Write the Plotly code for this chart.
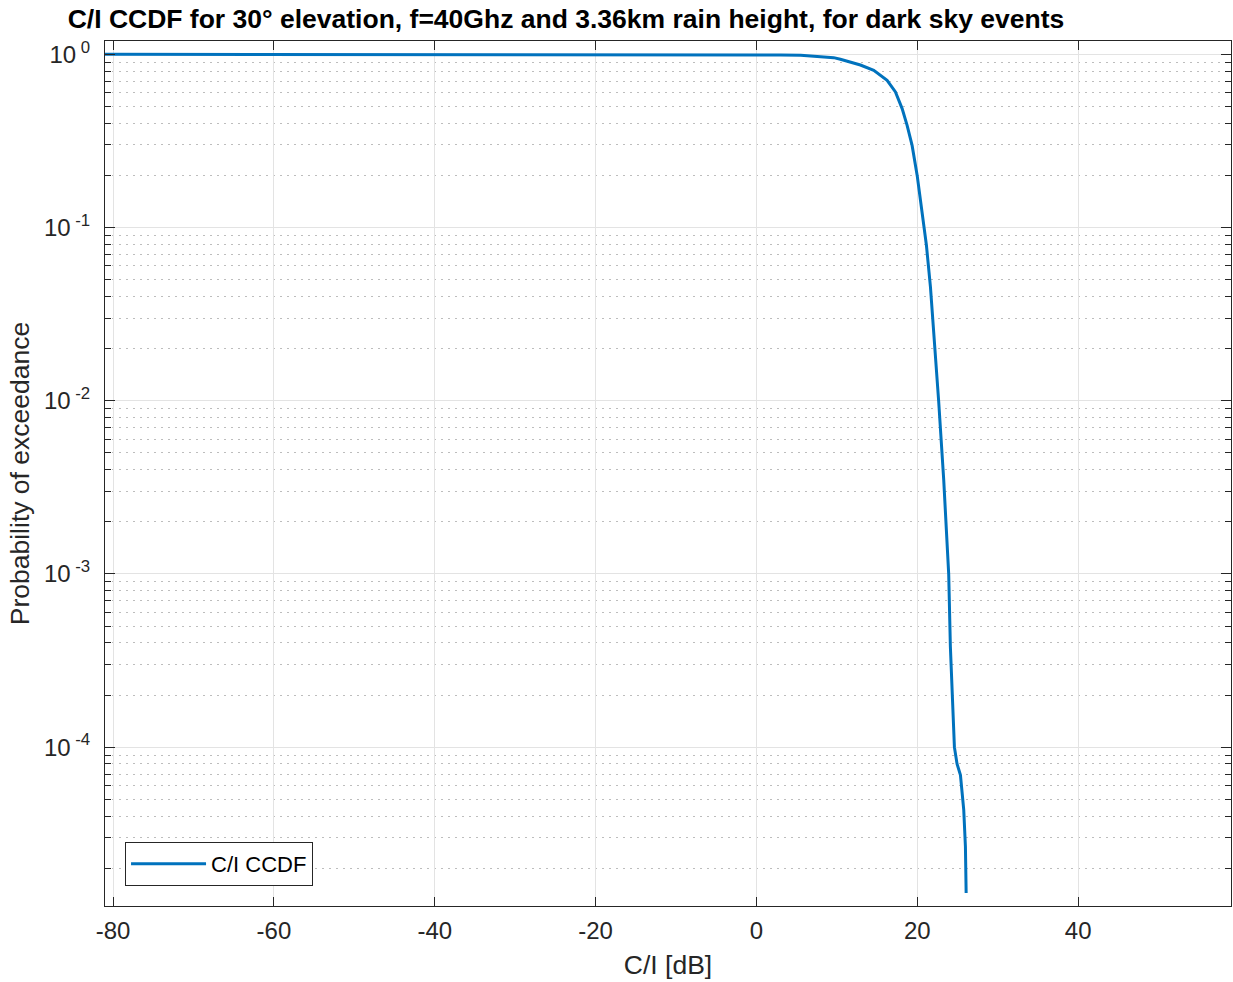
import plotly.graph_objects as go

# C/I complementary CDF (dark sky events, 30 deg elevation, 40 GHz, 3.36 km rain height)
ci_db = [-81, -60, -40, -20, -10, -5, 0, 3, 5.5, 7.5, 9.6, 10.43, 11.68, 12.92,
         14.58, 16.24, 17.28, 18.11, 18.73, 19.35, 19.98, 20.6, 21.13, 21.63,
         22.03, 22.25, 22.65, 23.28, 23.9, 24.11, 24.32, 24.61, 24.94, 25.36,
         25.77, 25.98, 26.07]
p_exceed = [1.0, 1.0, 1.0, 0.9999, 0.9995, 0.998, 0.995, 0.992, 0.987, 0.975,
            0.957, 0.936, 0.905, 0.868, 0.809, 0.708, 0.607, 0.486, 0.389,
            0.298, 0.2, 0.123, 0.079, 0.0454, 0.0255, 0.018, 0.01, 0.0035,
            0.001, 3.8e-4, 1.96e-4, 1.0e-4, 8.0e-5, 6.9e-5, 4.35e-5, 2.67e-5,
            1.44e-5]

x_ticks = [-80, -60, -40, -20, 0, 20, 40]
x_ticktext = [str(v) for v in x_ticks]
y_exponents = [-4, -3, -2, -1, 0]
y_ticks = [10.0 ** e for e in y_exponents]
y_ticktext = ["10<sup> %d</sup>" % e for e in y_exponents]
y_minor = [m * 10.0 ** e for e in range(-5, 0) for m in range(2, 10)]

AX = "#262626"
FONT = "Liberation Sans, Arial, Helvetica, sans-serif"

fig = go.Figure()
fig.add_trace(go.Scatter(
    x=ci_db, y=p_exceed, mode="lines", name="C/I CCDF",
    line=dict(color="#0072BD", width=3),
))

fig.update_layout(
    width=1233, height=982,
    margin=dict(l=105, r=2, t=41, b=76),
    paper_bgcolor="white", plot_bgcolor="white",
    font=dict(family=FONT, color=AX, size=24),
    title=dict(
        text="<b>C/I CCDF for 30° elevation, f=40Ghz and 3.36km rain height, for dark sky events</b>",
        x=0.459, xref="container", xanchor="center",
        y=0.981, yref="container", yanchor="middle",
        font=dict(family=FONT, size=26.5, color="black"),
    ),
    showlegend=True,
    legend=dict(
        x=0.0178, y=0.0231, xanchor="left", yanchor="bottom",
        bgcolor="white", bordercolor=AX, borderwidth=1,
        font=dict(family=FONT, size=22, color="black"),
        itemwidth=75,
    ),
)

fig.update_xaxes(
    range=[-81, 59], tickmode="array", tickvals=x_ticks, ticktext=x_ticktext,
    showline=True, linecolor=AX, linewidth=1, mirror="ticks",
    ticks="inside", ticklen=9, tickcolor=AX,
    showgrid=True, gridcolor="#e3e3e3", gridwidth=1, zeroline=False,
    tickfont=dict(size=24, color=AX), ticklabelstandoff=3,
    title=dict(text="C/I [dB]", font=dict(size=26.5, color=AX), standoff=12),
)

fig.update_yaxes(
    type="log", range=[-4.917, 0.077],
    tickmode="array", tickvals=y_ticks, ticktext=y_ticktext,
    showline=True, linecolor=AX, linewidth=1, mirror="ticks",
    ticks="inside", ticklen=10, tickcolor=AX,
    showgrid=True, gridcolor="#e3e3e3", gridwidth=1, zeroline=False,
    tickfont=dict(size=24, color=AX), ticklabelstandoff=9,
    minor=dict(
        tickmode="array", tickvals=y_minor,
        ticks="inside", ticklen=6, tickcolor=AX,
        showgrid=True, griddash="2px,5px", gridcolor="#bdbdbd", gridwidth=1,
    ),
    title=dict(text="Probability of exceedance", font=dict(size=26.5, color=AX), standoff=6),
)

fig.write_html("out.html")
